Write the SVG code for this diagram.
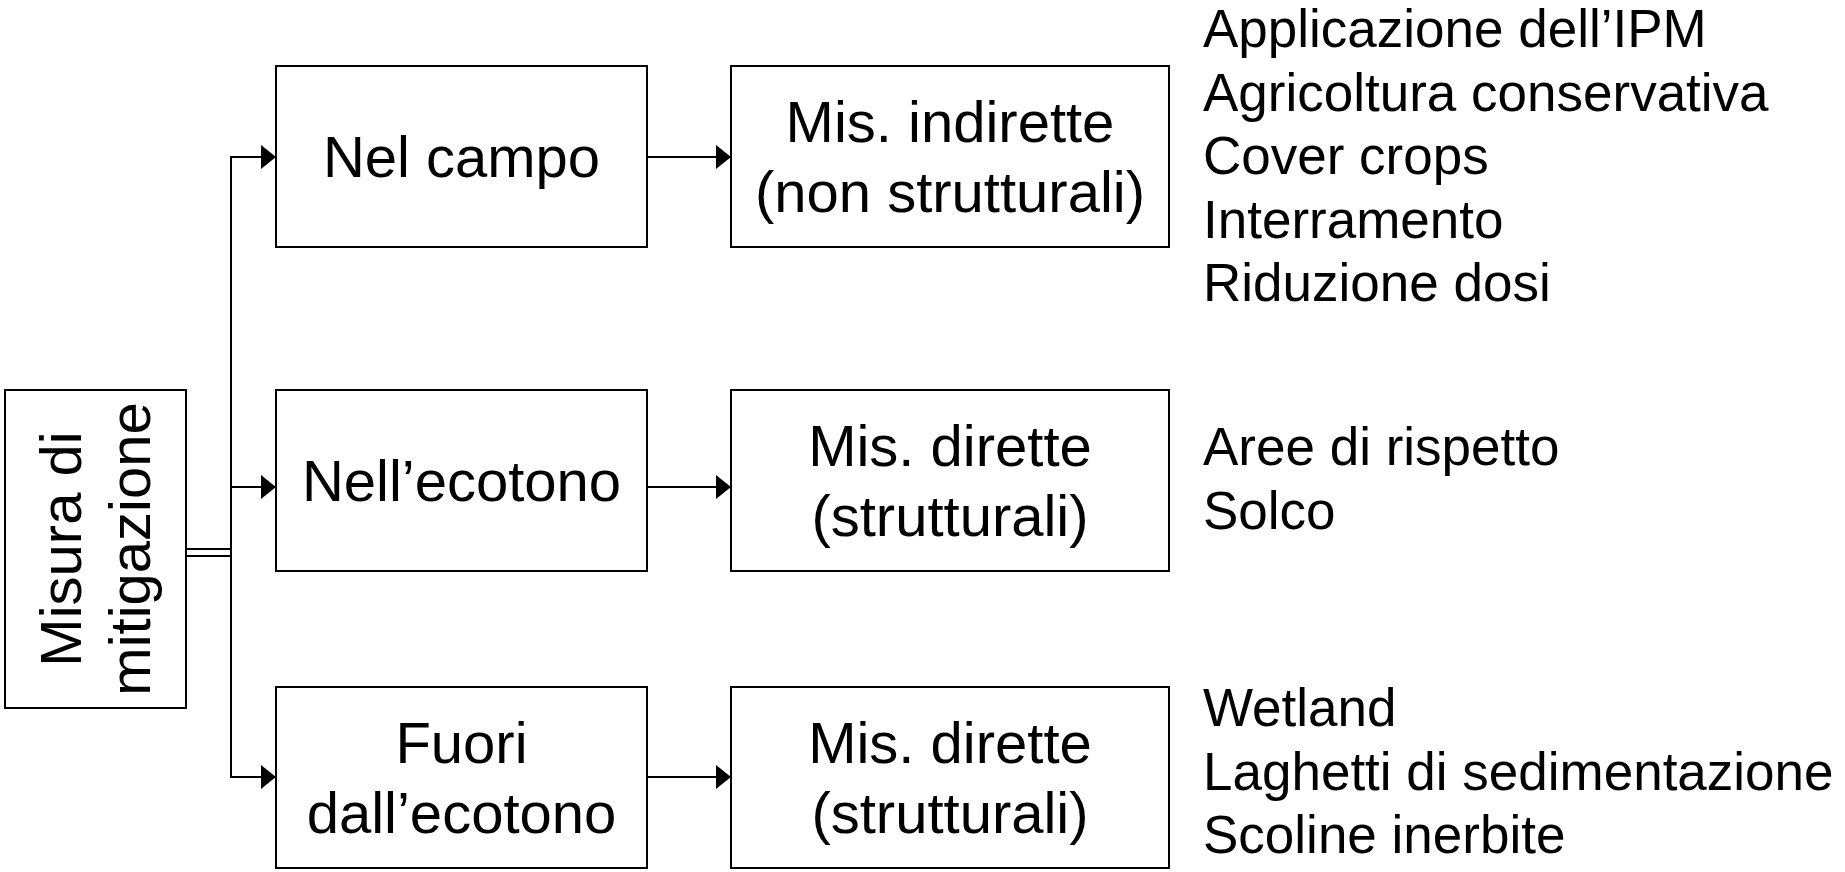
<svg xmlns="http://www.w3.org/2000/svg" width="1845" height="872" viewBox="0 0 1845 872">
<style>
.box{fill:#fff;stroke:#000;stroke-width:2}
.lbl{font-family:"Liberation Sans",Arial,sans-serif;font-size:58px;fill:#000;text-anchor:middle}
.lst{font-family:"Liberation Sans",Arial,sans-serif;font-size:53px;fill:#000}
.ln{stroke:#000;stroke-width:2;fill:none}
</style>
<defs>
<marker id="arr" markerUnits="userSpaceOnUse" markerWidth="16" markerHeight="26" refX="15" refY="12" orient="auto">
<path d="M0,0 L15,12 L0,24 Z" fill="#000"/>
</marker>
</defs>
<rect width="1845" height="872" fill="#fff"/>
<g id="connectors">
<line class="ln" x1="186" y1="549" x2="231" y2="549"/>
<line class="ln" x1="186" y1="556" x2="231" y2="556"/>
<line class="ln" x1="231" y1="156" x2="231" y2="778"/>
<line class="ln" x1="230" y1="157" x2="276" y2="157" marker-end="url(#arr)"/>
<line class="ln" x1="230" y1="487" x2="276" y2="487" marker-end="url(#arr)"/>
<line class="ln" x1="230" y1="777" x2="276" y2="777" marker-end="url(#arr)"/>
<line class="ln" x1="647" y1="157" x2="731" y2="157" marker-end="url(#arr)"/>
<line class="ln" x1="647" y1="487" x2="731" y2="487" marker-end="url(#arr)"/>
<line class="ln" x1="647" y1="777" x2="731" y2="777" marker-end="url(#arr)"/>
</g>
<g id="misura">
<rect class="box" x="5" y="390" width="181" height="318"/>
<text class="lbl" transform="translate(95.5,549) rotate(-90)"><tspan x="0" y="-14.7">Misura di</tspan><tspan x="0" y="54.9">mitigazione</tspan></text>
</g>
<g id="nel-campo">
<rect class="box" x="276" y="66" width="371" height="181"/>
<text class="lbl" x="461.5" y="177">Nel campo</text>
</g>
<g id="mis-indirette">
<rect class="box" x="731" y="66" width="438" height="181"/>
<text class="lbl"><tspan x="950" y="142">Mis. indirette</tspan><tspan x="950" y="211.6">(non strutturali)</tspan></text>
</g>
<g id="nell-ecotono">
<rect class="box" x="276" y="390" width="371" height="181"/>
<text class="lbl" x="461.5" y="501">Nell’ecotono</text>
</g>
<g id="mis-dirette-1">
<rect class="box" x="731" y="390" width="438" height="181"/>
<text class="lbl"><tspan x="950" y="466">Mis. dirette</tspan><tspan x="950" y="535.6">(strutturali)</tspan></text>
</g>
<g id="fuori-ecotono">
<rect class="box" x="276" y="687" width="371" height="181"/>
<text class="lbl"><tspan x="461.5" y="763">Fuori</tspan><tspan x="461.5" y="832.6">dall’ecotono</tspan></text>
</g>
<g id="mis-dirette-2">
<rect class="box" x="731" y="687" width="438" height="181"/>
<text class="lbl"><tspan x="950" y="763">Mis. dirette</tspan><tspan x="950" y="832.6">(strutturali)</tspan></text>
</g>
<g id="list-indirette">
<text class="lst"><tspan x="1203" y="47">Applicazione dell’IPM</tspan><tspan x="1203" y="110.6">Agricoltura conservativa</tspan><tspan x="1203" y="174.2">Cover crops</tspan><tspan x="1203" y="237.8">Interramento</tspan><tspan x="1203" y="301.4">Riduzione dosi</tspan></text>
</g>
<g id="list-dirette-1">
<text class="lst"><tspan x="1203" y="465">Aree di rispetto</tspan><tspan x="1203" y="528.6">Solco</tspan></text>
</g>
<g id="list-dirette-2">
<text class="lst"><tspan x="1203" y="726">Wetland</tspan><tspan x="1203" y="789.6">Laghetti di sedimentazione</tspan><tspan x="1203" y="853.2">Scoline inerbite</tspan></text>
</g>
</svg>
